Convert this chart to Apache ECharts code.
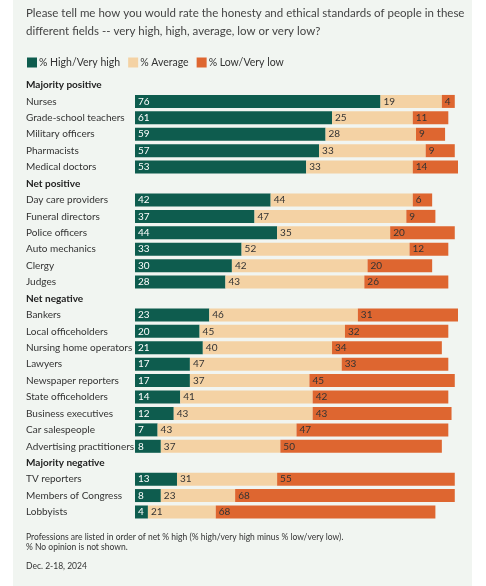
<!DOCTYPE html>
<html><head><meta charset="utf-8">
<script src="https://cdn.jsdelivr.net/npm/echarts@6/dist/echarts.min.js"></script>
<style>html,body{margin:0;padding:0;background:#fff}#c{width:486px;height:586px}</style>
</head><body><div id="c"></div>
<script>
const categories = ['H:Majority positive','Nurses','Grade-school teachers','Military officers','Pharmacists','Medical doctors',
'H:Net positive','Day care providers','Funeral directors','Police officers','Auto mechanics','Clergy','Judges',
'H:Net negative','Bankers','Local officeholders','Nursing home operators','Lawyers','Newspaper reporters','State officeholders','Business executives','Car salespeople','Advertising practitioners',
'H:Majority negative','TV reporters','Members of Congress','Lobbyists'];
const high = [null,76,61,59,57,53,null,42,37,44,33,30,28,null,23,20,21,17,17,14,12,7,8,null,13,8,4];
const average = [null,19,25,28,33,33,null,44,47,35,52,42,43,null,46,45,40,47,37,41,43,43,37,null,31,23,21];
const low = [null,4,11,9,9,14,null,6,9,20,12,20,26,null,31,32,34,33,45,42,43,47,50,null,55,68,68];
const seriesNames = ['% High/Very high','% Average','% Low/Very low'];
const colors = ['#0e5c4e','#f4d2a4','#de6630'];
const F = 'Lato, "Noto Sans", sans-serif';
const chart = echarts.init(document.getElementById('c'));
function mk(name, data, color, lc){
  return {name, type:'bar', stack:'s', data, barWidth:13, itemStyle:{color},
    label:{show:true, position:'insideLeft', color:lc, fontSize:10, fontFamily:F, offset:[-2,0],
      formatter:p=>p.value==null?'':p.value}};
}
chart.setOption({
  animation:false,
  graphic:[
    {type:'rect', z:-10, shape:{x:13,y:0,width:459,height:586}, style:{fill:'#f1f5f1'}},
    {type:'text', left:26, top:4, style:{text:'Please tell me how you would rate the honesty and ethical standards of people in these\ndifferent fields -- very high, high, average, low or very low?', font:'11.5px '+F, fill:'#444', lineHeight:18}},
    {type:'text', left:26, top:532, style:{text:'Professions are listed in order of net % high (% high/very high minus % low/very low).\n% No opinion is not shown.', font:'8.5px '+F, fill:'#333', lineHeight:10}},
    {type:'text', left:26, top:562, style:{text:'Dec. 2-18, 2024', font:'8.5px '+F, fill:'#333'}}
  ],
  legend:{left:22, top:52, itemWidth:10, itemHeight:10, itemGap:8, icon:'rect',
    textStyle:{fontSize:10.5, color:'#333', fontFamily:F, padding:[0,0,0,-3]}, data:seriesNames},
  grid:{left:135, top:76.8, width:323, height:443.4},
  xAxis:{type:'value', min:0, max:100, show:false},
  yAxis:{type:'category', inverse:true, data:categories, axisLine:{show:false}, axisTick:{show:false},
    axisLabel:{margin:109, align:'left', fontSize:10, fontFamily:F, color:'#333',
      formatter:v=>v.startsWith('H:')?'{b|'+v.slice(2)+'}':v,
      rich:{b:{fontWeight:'bold', fontSize:10, fontFamily:F, color:'#222'}}}},
  series:[mk(seriesNames[0],high,colors[0],'#fff'),mk(seriesNames[1],average,colors[1],'#333'),mk(seriesNames[2],low,colors[2],'#333')]
});
</script></body></html>
